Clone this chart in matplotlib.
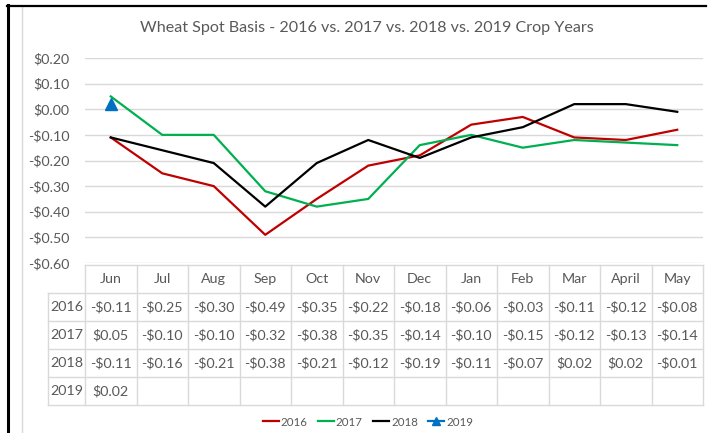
import matplotlib
matplotlib.use('Agg')
import matplotlib.pyplot as plt
import numpy as np
from matplotlib.lines import Line2D
from matplotlib.ticker import FuncFormatter

months = ['Jun', 'Jul', 'Aug', 'Sep', 'Oct', 'Nov', 'Dec', 'Jan', 'Feb', 'Mar', 'April', 'May']
years = ['2016', '2017', '2018', '2019']
basis_2016 = [-0.11, -0.25, -0.30, -0.49, -0.35, -0.22, -0.18, -0.06, -0.03, -0.11, -0.12, -0.08]
basis_2017 = [0.05, -0.10, -0.10, -0.32, -0.38, -0.35, -0.14, -0.10, -0.15, -0.12, -0.13, -0.14]
basis_2018 = [-0.11, -0.16, -0.21, -0.38, -0.21, -0.12, -0.19, -0.11, -0.07, 0.02, 0.02, -0.01]
basis_2019 = [0.02]
colors = ['#c00000', '#00b050', '#000000', '#0070c0']

W, H = 709, 433
TXT = '#595959'
GRID = '#d9d9d9'
FS = 10.3
plt.rcParams['font.family'] = ['Lato', 'DejaVu Sans']


def money(v):
    if v is None:
        return ''
    return ('-' if v < -1e-9 else '') + '$%.2f' % abs(v)


fig = plt.figure(figsize=(W / 100, H / 100), dpi=100)

# line chart
ax = fig.add_axes([85 / W, 1 - 263 / H, 618 / W, 205 / H])
series = [basis_2016, basis_2017, basis_2018]
for vals, c, lab in zip(series, colors, years):
    ax.plot(range(len(vals)), vals, color=c, lw=1.6, label=lab)
ax.plot(range(len(basis_2019)), basis_2019, color=colors[3], lw=1.6,
        marker='^', ms=8, label=years[3])
ax.set_xlim(-0.5, len(months) - 0.5)
ax.set_ylim(-0.6, 0.2)
ax.set_yticks(np.arange(-0.6, 0.201, 0.1))
ax.yaxis.set_major_formatter(FuncFormatter(lambda v, p: money(v)))
ax.grid(axis='y', color=GRID, lw=1)
ax.set_axisbelow(True)
ax.set_xticks([])
for s in ax.spines.values():
    s.set_visible(False)
ax.tick_params(axis='y', length=0, labelsize=FS, labelcolor=TXT, pad=11)

# data table underneath, sharing the category scale
tab = fig.add_axes([85 / W, 1 - 405 / H, 618 / W, 140 / H])
tab.set_xlim(-0.5, len(months) - 0.5)
tab.set_ylim(5, 0)
tab.axis('off')
xl = -1.22
n = len(months)
tab.plot([-0.5, n - 0.5], [0, 0], color=GRID, lw=1, clip_on=False)
for r in range(1, 6):
    tab.plot([xl, n - 0.5], [r, r], color=GRID, lw=1, clip_on=False)
tab.plot([xl, xl], [1, 5], color=GRID, lw=1, clip_on=False)
for i in range(n + 1):
    tab.plot([i - 0.5, i - 0.5], [0, 5], color=GRID, lw=1, clip_on=False)
for i, m in enumerate(months):
    tab.text(i, 0.5, m, ha='center', va='center', fontsize=FS, color=TXT)
all_rows = series + [basis_2019]
for r, (yr, vals) in enumerate(zip(years, all_rows)):
    tab.text((xl - 0.5) / 2, r + 1.5, yr, ha='center', va='center',
             fontsize=FS, color=TXT, clip_on=False)
    for i, v in enumerate(vals):
        tab.text(i, r + 1.5, money(v), ha='center', va='center',
                 fontsize=FS, color=TXT)

# title and legend
fig.text(367 / W, 1 - 28 / H, 'Wheat Spot Basis - 2016 vs. 2017 vs. 2018 vs. 2019 Crop Years',
         ha='center', va='center', fontsize=11.6, color=TXT)
h, l = ax.get_legend_handles_labels()
fig.legend(h, l, loc='center', bbox_to_anchor=(368 / W, 1 - 422 / H), ncol=4,
           frameon=False, fontsize=8.3, handlelength=1.4, columnspacing=0.9,
           handletextpad=0.15, labelcolor=TXT, markerscale=0.75)

# outer frame bits
fig.add_artist(Line2D([22 / W, 22 / W], [0, 1 - 7 / H], color=GRID, lw=1))
fig.add_artist(Line2D([8 / W, 8 / W], [0, 1 - 5 / H], color='black', lw=2.2))
fig.add_artist(Line2D([7 / W, 706 / W], [1 - 5.5 / H, 1 - 5.5 / H], color='black', lw=1.6))

fig.savefig('out.png', dpi=100)
